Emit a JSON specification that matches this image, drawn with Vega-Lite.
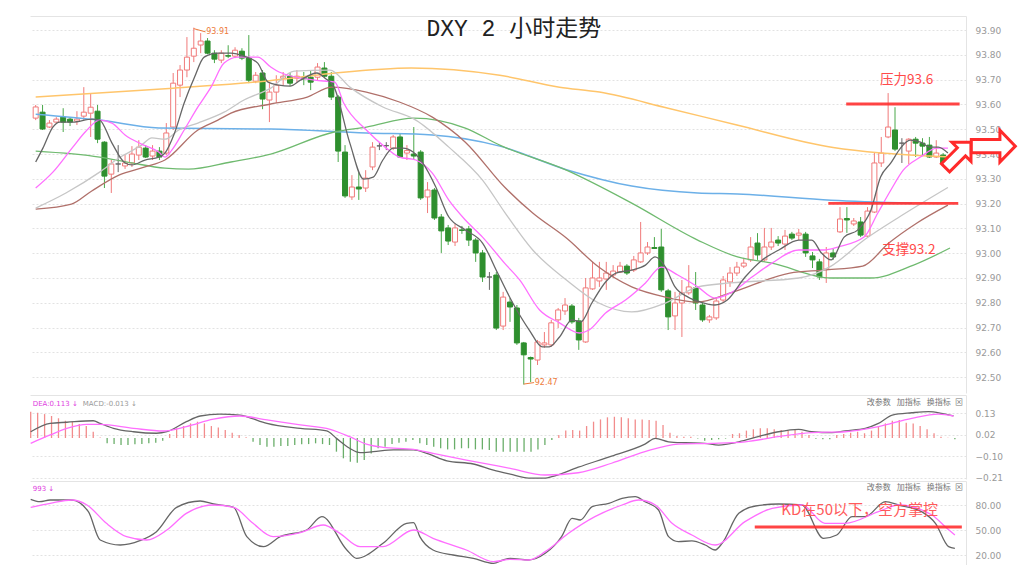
{
"$schema":"https://vega.github.io/schema/vega-lite/v6.json",
"padding":{"left":30,"top":16,"right":0,"bottom":0},
"background":"white",
"spacing":2,
"bounds":"flush",
"config":{"view":{"stroke":null},"font":"DejaVu Sans"},
"datasets":{
"candles":[
{"i":0,"o":93.545,"c":93.590,"h":93.598,"l":93.537},{"i":1,"o":93.569,"c":93.501,"h":93.598,"l":93.497},{"i":2,"o":93.509,"c":93.525,"h":93.537,"l":93.505},{"i":3,"o":93.529,"c":93.541,"h":93.549,"l":93.525},{"i":4,"o":93.549,"c":93.529,"h":93.585,"l":93.489},{"i":5,"o":93.541,"c":93.529,"h":93.549,"l":93.513},{"i":6,"o":93.533,"c":93.541,"h":93.573,"l":93.517},{"i":7,"o":93.553,"c":93.569,"h":93.670,"l":93.537},{"i":8,"o":93.565,"c":93.589,"h":93.646,"l":93.469},{"i":9,"o":93.573,"c":93.460,"h":93.598,"l":93.444},
{"i":10,"o":93.448,"c":93.311,"h":93.452,"l":93.263},{"i":11,"o":93.319,"c":93.360,"h":93.376,"l":93.243},{"i":12,"o":93.360,"c":93.360,"h":93.436,"l":93.327},{"i":13,"o":93.352,"c":93.364,"h":93.400,"l":93.340},{"i":14,"o":93.364,"c":93.400,"h":93.432,"l":93.348},{"i":15,"o":93.396,"c":93.428,"h":93.456,"l":93.376},{"i":16,"o":93.424,"c":93.388,"h":93.436,"l":93.384},{"i":17,"o":93.392,"c":93.412,"h":93.436,"l":93.376},{"i":18,"o":93.412,"c":93.388,"h":93.428,"l":93.376},{"i":19,"o":93.404,"c":93.485,"h":93.525,"l":93.396},
{"i":20,"o":93.509,"c":93.686,"h":93.727,"l":93.497},{"i":21,"o":93.678,"c":93.739,"h":93.759,"l":93.630},{"i":22,"o":93.739,"c":93.791,"h":93.872,"l":93.710},{"i":23,"o":93.795,"c":93.827,"h":93.910,"l":93.771},{"i":24,"o":93.840,"c":93.856,"h":93.888,"l":93.807},{"i":25,"o":93.856,"c":93.807,"h":93.868,"l":93.803},{"i":26,"o":93.807,"c":93.783,"h":93.819,"l":93.767},{"i":27,"o":93.779,"c":93.807,"h":93.819,"l":93.767},{"i":28,"o":93.797,"c":93.795,"h":93.839,"l":93.787},{"i":29,"o":93.795,"c":93.819,"h":93.831,"l":93.787},
{"i":30,"o":93.815,"c":93.787,"h":93.827,"l":93.779},{"i":31,"o":93.787,"c":93.698,"h":93.880,"l":93.686},{"i":32,"o":93.694,"c":93.718,"h":93.731,"l":93.686},{"i":33,"o":93.727,"c":93.622,"h":93.739,"l":93.581},{"i":34,"o":93.618,"c":93.650,"h":93.686,"l":93.529},{"i":35,"o":93.650,"c":93.678,"h":93.718,"l":93.606},{"i":36,"o":93.706,"c":93.714,"h":93.731,"l":93.678},{"i":37,"o":93.714,"c":93.686,"h":93.727,"l":93.674},{"i":38,"o":93.706,"c":93.714,"h":93.739,"l":93.690},{"i":39,"o":93.708,"c":93.704,"h":93.731,"l":93.678},
{"i":40,"o":93.710,"c":93.690,"h":93.739,"l":93.658},{"i":41,"o":93.710,"c":93.751,"h":93.767,"l":93.698},{"i":42,"o":93.747,"c":93.714,"h":93.771,"l":93.706},{"i":43,"o":93.714,"c":93.630,"h":93.731,"l":93.618},{"i":44,"o":93.630,"c":93.412,"h":93.638,"l":93.368},{"i":45,"o":93.408,"c":93.231,"h":93.436,"l":93.223},{"i":46,"o":93.227,"c":93.267,"h":93.315,"l":93.215},{"i":47,"o":93.267,"c":93.259,"h":93.327,"l":93.215},{"i":48,"o":93.263,"c":93.303,"h":93.335,"l":93.247},{"i":49,"o":93.348,"c":93.428,"h":93.448,"l":93.335},
{"i":50,"o":93.433,"c":93.433,"h":93.448,"l":93.416},{"i":51,"o":93.434,"c":93.434,"h":93.448,"l":93.416},{"i":52,"o":93.424,"c":93.469,"h":93.477,"l":93.416},{"i":53,"o":93.469,"c":93.388,"h":93.481,"l":93.384},{"i":54,"o":93.404,"c":93.414,"h":93.436,"l":93.376},{"i":55,"o":93.400,"c":93.392,"h":93.509,"l":93.376},{"i":56,"o":93.408,"c":93.223,"h":93.416,"l":93.215},{"i":57,"o":93.227,"c":93.255,"h":93.287,"l":93.162},{"i":58,"o":93.255,"c":93.142,"h":93.263,"l":93.134},{"i":59,"o":93.146,"c":93.090,"h":93.158,"l":93.001},
{"i":60,"o":93.102,"c":93.049,"h":93.114,"l":93.033},{"i":61,"o":93.045,"c":93.102,"h":93.118,"l":93.029},{"i":62,"o":93.094,"c":93.092,"h":93.110,"l":93.078},{"i":63,"o":93.098,"c":93.053,"h":93.110,"l":93.029},{"i":64,"o":93.053,"c":93.001,"h":93.061,"l":92.965},{"i":65,"o":93.001,"c":92.904,"h":93.013,"l":92.884},{"i":66,"o":92.904,"c":92.904,"h":92.924,"l":92.852},{"i":67,"o":92.912,"c":92.698,"h":92.924,"l":92.690},{"i":68,"o":92.706,"c":92.823,"h":92.844,"l":92.690},{"i":69,"o":92.803,"c":92.783,"h":92.819,"l":92.723},
{"i":70,"o":92.779,"c":92.638,"h":92.791,"l":92.630},{"i":71,"o":92.638,"c":92.590,"h":92.642,"l":92.470},{"i":72,"o":92.579,"c":92.573,"h":92.583,"l":92.480},{"i":73,"o":92.569,"c":92.642,"h":92.650,"l":92.549},{"i":74,"o":92.630,"c":92.638,"h":92.682,"l":92.618},{"i":75,"o":92.630,"c":92.719,"h":92.731,"l":92.622},{"i":76,"o":92.731,"c":92.771,"h":92.779,"l":92.698},{"i":77,"o":92.767,"c":92.791,"h":92.819,"l":92.751},{"i":78,"o":92.787,"c":92.723,"h":92.795,"l":92.715},{"i":79,"o":92.727,"c":92.650,"h":92.739,"l":92.610},
{"i":80,"o":92.642,"c":92.860,"h":92.900,"l":92.638},{"i":81,"o":92.856,"c":92.900,"h":92.965,"l":92.852},{"i":82,"o":92.888,"c":92.900,"h":92.965,"l":92.864},{"i":83,"o":92.896,"c":92.920,"h":92.965,"l":92.852},{"i":84,"o":92.912,"c":92.928,"h":92.952,"l":92.900},{"i":85,"o":92.924,"c":92.948,"h":92.965,"l":92.920},{"i":86,"o":92.948,"c":92.920,"h":92.956,"l":92.912},{"i":87,"o":92.932,"c":92.973,"h":92.989,"l":92.924},{"i":88,"o":92.965,"c":93.001,"h":93.126,"l":92.961},{"i":89,"o":93.001,"c":93.025,"h":93.045,"l":92.993},
{"i":90,"o":93.023,"c":93.019,"h":93.065,"l":93.017},{"i":91,"o":93.025,"c":92.852,"h":93.098,"l":92.844},{"i":92,"o":92.848,"c":92.743,"h":92.856,"l":92.690},{"i":93,"o":92.747,"c":92.799,"h":92.844,"l":92.690},{"i":94,"o":92.799,"c":92.840,"h":92.892,"l":92.662},{"i":95,"o":92.840,"c":92.864,"h":92.952,"l":92.832},{"i":96,"o":92.860,"c":92.799,"h":92.924,"l":92.771},{"i":97,"o":92.791,"c":92.731,"h":92.799,"l":92.723},{"i":98,"o":92.731,"c":92.743,"h":92.751,"l":92.719},{"i":99,"o":92.739,"c":92.807,"h":92.819,"l":92.731},
{"i":100,"o":92.811,"c":92.892,"h":92.908,"l":92.799},{"i":101,"o":92.884,"c":92.920,"h":92.944,"l":92.864},{"i":102,"o":92.920,"c":92.944,"h":92.965,"l":92.908},{"i":103,"o":92.948,"c":92.960,"h":92.981,"l":92.940},{"i":104,"o":92.973,"c":93.025,"h":93.065,"l":92.965},{"i":105,"o":93.041,"c":92.993,"h":93.081,"l":92.973},{"i":106,"o":92.973,"c":93.025,"h":93.102,"l":92.965},{"i":107,"o":93.025,"c":93.045,"h":93.102,"l":93.013},{"i":108,"o":93.053,"c":93.041,"h":93.069,"l":93.029},{"i":109,"o":93.037,"c":93.069,"h":93.094,"l":93.013},
{"i":110,"o":93.077,"c":93.061,"h":93.086,"l":93.053},{"i":111,"o":93.073,"c":93.081,"h":93.098,"l":93.053},{"i":112,"o":93.077,"c":93.001,"h":93.086,"l":92.985},{"i":113,"o":92.989,"c":92.973,"h":93.005,"l":92.940},{"i":114,"o":92.965,"c":92.904,"h":92.977,"l":92.892},{"i":115,"o":92.936,"c":93.001,"h":93.025,"l":92.880},{"i":116,"o":93.001,"c":92.985,"h":93.017,"l":92.973},{"i":117,"o":93.086,"c":93.138,"h":93.186,"l":93.082},{"i":118,"o":93.140,"c":93.134,"h":93.186,"l":93.082},{"i":119,"o":93.118,"c":93.130,"h":93.142,"l":93.110},
{"i":120,"o":93.126,"c":93.073,"h":93.146,"l":93.065},{"i":121,"o":93.069,"c":93.170,"h":93.186,"l":93.065},{"i":122,"o":93.166,"c":93.364,"h":93.408,"l":93.162},{"i":123,"o":93.364,"c":93.404,"h":93.469,"l":93.348},{"i":124,"o":93.469,"c":93.509,"h":93.646,"l":93.464},{"i":125,"o":93.497,"c":93.420,"h":93.589,"l":93.412},{"i":126,"o":93.444,"c":93.444,"h":93.464,"l":93.364},{"i":127,"o":93.412,"c":93.460,"h":93.464,"l":93.360},{"i":128,"o":93.460,"c":93.444,"h":93.469,"l":93.388},{"i":129,"o":93.444,"c":93.432,"h":93.464,"l":93.396},
{"i":130,"o":93.436,"c":93.388,"h":93.469,"l":93.384},{"i":131,"o":93.388,"c":93.404,"h":93.456,"l":93.384},{"i":132,"o":93.396,"c":93.364,"h":93.404,"l":93.356},{"i":133,"o":93.368,"c":93.388,"h":93.396,"l":93.327}
],
"ma5":[{"i":0,"v":93.368},{"i":1.05,"v":93.424},{"i":2.5,"v":93.509},{"i":3.5,"v":93.529},{"i":5.4,"v":93.529},{"i":8.2,"v":93.541},{"i":9.3,"v":93.537},{"i":11.1,"v":93.444},{"i":13,"v":93.364},{"i":14,"v":93.356},{"i":15.9,"v":93.376},{"i":17.9,"v":93.388},{"i":18.8,"v":93.404},{"i":20.2,"v":93.485},{"i":21.6,"v":93.606},{"i":23.1,"v":93.710},{"i":24.5,"v":93.791},{"i":26.5,"v":93.807},{"i":28.4,"v":93.807},{"i":30.3,"v":93.795},{"i":32.3,"v":93.767},{"i":33.8,"v":93.690},{"i":35.4,"v":93.678},{"i":37,"v":93.674},{"i":38.5,"v":93.698},{"i":40.9,"v":93.727},{"i":42.1,"v":93.706},{"i":43.4,"v":93.670},{"i":45.7,"v":93.444},{"i":47.7,"v":93.299},{"i":49.1,"v":93.307},{"i":50.5,"v":93.376},{"i":52,"v":93.424},{"i":53.4,"v":93.424},{"i":54.9,"v":93.408},{"i":56.3,"v":93.364},{"i":58.2,"v":93.267},{"i":60.1,"v":93.146},{"i":62.5,"v":93.094},{"i":65,"v":93.041},{"i":67.2,"v":92.920},{"i":69.4,"v":92.799},{"i":71.8,"v":92.690},{"i":73.7,"v":92.622},{"i":74.7,"v":92.622},{"i":76.2,"v":92.662},{"i":78,"v":92.731},{"i":79.3,"v":92.723},{"i":80.9,"v":92.799},{"i":82.9,"v":92.884},{"i":84.4,"v":92.920},{"i":86.7,"v":92.932},{"i":88.7,"v":92.952},{"i":90.1,"v":92.985},{"i":91.6,"v":92.944},{"i":93,"v":92.864},{"i":94.9,"v":92.823},{"i":96.7,"v":92.803},{"i":98.8,"v":92.791},{"i":100.6,"v":92.811},{"i":103.2,"v":92.904},{"i":105.7,"v":92.973},{"i":108.1,"v":93.013},{"i":111,"v":93.053},{"i":112.9,"v":93.053},{"i":114.3,"v":93.001},{"i":115.7,"v":92.973},{"i":117.6,"v":93.065},{"i":119.6,"v":93.094},{"i":121.5,"v":93.174},{"i":122.9,"v":93.307},{"i":124.4,"v":93.364},{"i":125.8,"v":93.424},{"i":127.2,"v":93.456},{"i":128.7,"v":93.448},{"i":130.1,"v":93.428},{"i":131.3,"v":93.428},{"i":132.7,"v":93.404}],
"ma10":[{"i":0,"v":93.263},{"i":2.5,"v":93.327},{"i":5.4,"v":93.428},{"i":7.2,"v":93.489},{"i":9.3,"v":93.537},{"i":11.1,"v":93.525},{"i":13,"v":93.477},{"i":15.4,"v":93.440},{"i":17.9,"v":93.408},{"i":18.8,"v":93.388},{"i":19.8,"v":93.416},{"i":21.6,"v":93.497},{"i":23.6,"v":93.590},{"i":25.5,"v":93.670},{"i":27.4,"v":93.767},{"i":29.4,"v":93.791},{"i":32.3,"v":93.791},{"i":34.2,"v":93.751},{"i":35.4,"v":93.731},{"i":40.6,"v":93.698},{"i":43.5,"v":93.690},{"i":44.8,"v":93.606},{"i":48.1,"v":93.497},{"i":51,"v":93.424},{"i":52.9,"v":93.388},{"i":55.3,"v":93.376},{"i":57.7,"v":93.323},{"i":60.1,"v":93.214},{"i":62.5,"v":93.134},{"i":65,"v":93.065},{"i":68.2,"v":92.960},{"i":70.4,"v":92.892},{"i":73.3,"v":92.771},{"i":76.2,"v":92.719},{"i":79.1,"v":92.678},{"i":80.5,"v":92.690},{"i":82.9,"v":92.759},{"i":85.8,"v":92.811},{"i":88.7,"v":92.880},{"i":91,"v":92.944},{"i":93.4,"v":92.912},{"i":96.3,"v":92.864},{"i":98.8,"v":92.819},{"i":101.1,"v":92.840},{"i":104.2,"v":92.904},{"i":107.1,"v":92.960},{"i":111,"v":93.013},{"i":114.7,"v":93.013},{"i":116.7,"v":93.025},{"i":120.5,"v":93.065},{"i":122.5,"v":93.162},{"i":124.4,"v":93.255},{"i":126.2,"v":93.335},{"i":128.7,"v":93.388},{"i":131.1,"v":93.424},{"i":132.7,"v":93.424}],
"ma20":[{"i":0,"v":93.182},{"i":4.4,"v":93.243},{"i":9.3,"v":93.327},{"i":12.1,"v":93.384},{"i":15.4,"v":93.436},{"i":16.9,"v":93.465},{"i":18.8,"v":93.460},{"i":20.8,"v":93.497},{"i":23.6,"v":93.525},{"i":27.4,"v":93.569},{"i":30.3,"v":93.618},{"i":34.2,"v":93.666},{"i":37.6,"v":93.735},{"i":42.8,"v":93.739},{"i":45.7,"v":93.670},{"i":50.5,"v":93.590},{"i":55.3,"v":93.537},{"i":60.1,"v":93.428},{"i":65,"v":93.295},{"i":68.2,"v":93.166},{"i":72.3,"v":93.013},{"i":77.2,"v":92.892},{"i":81.9,"v":92.799},{"i":86.7,"v":92.763},{"i":91.6,"v":92.799},{"i":96.3,"v":92.864},{"i":101.1,"v":92.880},{"i":111,"v":92.900},{"i":115.7,"v":92.948},{"i":120.5,"v":93.053},{"i":125.4,"v":93.142},{"i":132.7,"v":93.265}],
"ma30":[{"i":0,"v":93.178},{"i":5.2,"v":93.198},{"i":8.1,"v":93.250},{"i":12.1,"v":93.315},{"i":15.9,"v":93.348},{"i":18.8,"v":93.376},{"i":23.6,"v":93.497},{"i":26.5,"v":93.537},{"i":28.4,"v":93.565},{"i":34.2,"v":93.602},{"i":39.5,"v":93.630},{"i":43.1,"v":93.670},{"i":48.1,"v":93.650},{"i":52.9,"v":93.610},{"i":57.7,"v":93.549},{"i":62.5,"v":93.448},{"i":68.2,"v":93.267},{"i":72.3,"v":93.162},{"i":77.2,"v":93.061},{"i":81.9,"v":92.944},{"i":86.7,"v":92.864},{"i":91.6,"v":92.823},{"i":96.3,"v":92.803},{"i":101.1,"v":92.840},{"i":109.7,"v":92.920},{"i":114.6,"v":92.932},{"i":120.3,"v":92.948},{"i":124.1,"v":93.041},{"i":128.2,"v":93.122},{"i":132.7,"v":93.194}],
"ma60":[{"i":0,"v":93.412},{"i":9.3,"v":93.388},{"i":14,"v":93.364},{"i":18.8,"v":93.343},{"i":22.2,"v":93.339},{"i":28.4,"v":93.368},{"i":34.2,"v":93.400},{"i":43.4,"v":93.489},{"i":48.1,"v":93.509},{"i":55,"v":93.545},{"i":62.5,"v":93.505},{"i":67.5,"v":93.436},{"i":77.2,"v":93.335},{"i":86.7,"v":93.202},{"i":96.3,"v":93.053},{"i":102.1,"v":92.985},{"i":107.1,"v":92.960},{"i":115.7,"v":92.900},{"i":121.5,"v":92.900},{"i":127.7,"v":92.952},{"i":133,"v":93.021}],
"ma120":[{"i":0,"v":93.561},{"i":9.3,"v":93.537},{"i":17.9,"v":93.505},{"i":34.2,"v":93.501},{"i":48.1,"v":93.485},{"i":57.7,"v":93.477},{"i":67.5,"v":93.432},{"i":77.2,"v":93.337},{"i":86.7,"v":93.271},{"i":96.3,"v":93.243},{"i":102.1,"v":93.239},{"i":115.7,"v":93.214},{"i":127.5,"v":93.202}],
"ma250":[{"i":0,"v":93.630},{"i":20,"v":93.666},{"i":34,"v":93.696},{"i":43,"v":93.725},{"i":54.6,"v":93.747},{"i":67.5,"v":93.718},{"i":76.2,"v":93.670},{"i":82,"v":93.650},{"i":92,"v":93.585},{"i":102,"v":93.517},{"i":116,"v":93.426},{"i":123,"v":93.404},{"i":130,"v":93.392},{"i":133,"v":93.388}],
"hist":[{"i":0,"m":0.139},{"i":1,"m":0.133},{"i":2,"m":0.126},{"i":3,"m":0.116},{"i":4,"m":0.104},{"i":5,"m":0.091},{"i":6,"m":0.086},{"i":7,"m":0.074},{"i":8,"m":0.063},{"i":9,"m":0.033},{"i":10,"m":0.003},{"i":11,"m":-0.028},{"i":12,"m":-0.032},{"i":13,"m":-0.037},{"i":14,"m":-0.037},{"i":15,"m":-0.033},{"i":16,"m":-0.032},{"i":17,"m":-0.028},{"i":18,"m":-0.025},{"i":19,"m":-0.014},{"i":20,"m":0.021},{"i":21,"m":0.051},{"i":22,"m":0.063},{"i":23,"m":0.077},{"i":24,"m":0.086},{"i":25,"m":0.077},{"i":26,"m":0.063},{"i":27,"m":0.056},{"i":28,"m":0.042},{"i":29,"m":0.028},{"i":30,"m":0.016},{"i":31,"m":0.004},{"i":32,"m":-0.020},{"i":33,"m":-0.037},{"i":34,"m":-0.046},{"i":35,"m":-0.046},{"i":36,"m":-0.042},{"i":37,"m":-0.042},{"i":38,"m":-0.037},{"i":39,"m":-0.033},{"i":40,"m":-0.032},{"i":41,"m":-0.028},{"i":42,"m":-0.032},{"i":43,"m":-0.037},{"i":44,"m":-0.072},{"i":45,"m":-0.107},{"i":46,"m":-0.125},{"i":47,"m":-0.130},{"i":48,"m":-0.116},{"i":49,"m":-0.081},{"i":50,"m":-0.054},{"i":51,"m":-0.046},{"i":52,"m":-0.032},{"i":53,"m":-0.025},{"i":54,"m":-0.020},{"i":55,"m":-0.011},{"i":56,"m":-0.028},{"i":57,"m":-0.037},{"i":58,"m":-0.046},{"i":59,"m":-0.054},{"i":60,"m":-0.060},{"i":61,"m":-0.060},{"i":62,"m":-0.054},{"i":63,"m":-0.054},{"i":64,"m":-0.060},{"i":65,"m":-0.060},{"i":66,"m":-0.063},{"i":67,"m":-0.072},{"i":68,"m":-0.072},{"i":69,"m":-0.072},{"i":70,"m":-0.072},{"i":71,"m":-0.072},{"i":72,"m":-0.072},{"i":73,"m":-0.060},{"i":74,"m":-0.037},{"i":75,"m":-0.011},{"i":76,"m":0.016},{"i":77,"m":0.039},{"i":78,"m":0.042},{"i":79,"m":0.039},{"i":80,"m":0.063},{"i":81,"m":0.086},{"i":82,"m":0.098},{"i":83,"m":0.109},{"i":84,"m":0.112},{"i":85,"m":0.109},{"i":86,"m":0.104},{"i":87,"m":0.098},{"i":88,"m":0.098},{"i":89,"m":0.095},{"i":90,"m":0.091},{"i":91,"m":0.069},{"i":92,"m":0.028},{"i":93,"m":0.011},{"i":94,"m":0.007},{"i":95,"m":0.007},{"i":96,"m":-0.003},{"i":97,"m":-0.014},{"i":98,"m":-0.011},{"i":99,"m":-0.007},{"i":100,"m":-0.003},{"i":101,"m":0.021},{"i":102,"m":0.025},{"i":103,"m":0.039},{"i":104,"m":0.046},{"i":105,"m":0.051},{"i":106,"m":0.051},{"i":107,"m":0.046},{"i":108,"m":0.042},{"i":109,"m":0.039},{"i":110,"m":0.042},{"i":111,"m":0.033},{"i":112,"m":0.016},{"i":113,"m":-0.004},{"i":114,"m":-0.006},{"i":115,"m":-0.006},{"i":116,"m":0.016},{"i":117,"m":0.021},{"i":118,"m":0.028},{"i":119,"m":0.033},{"i":120,"m":0.025},{"i":121,"m":0.039},{"i":122,"m":0.060},{"i":123,"m":0.077},{"i":124,"m":0.091},{"i":125,"m":0.095},{"i":126,"m":0.081},{"i":127,"m":0.077},{"i":128,"m":0.063},{"i":129,"m":0.046},{"i":130,"m":0.025},{"i":131,"m":0.007},{"i":132,"m":0.002},{"i":133,"m":-0.007}],
"dif":[{"i":0,"v":0.033},{"i":2.8,"v":0.077},{"i":5.2,"v":0.083},{"i":9,"v":0.091},{"i":10,"v":0.077},{"i":11.9,"v":0.051},{"i":14.8,"v":0.033},{"i":18.1,"v":0.025},{"i":19.6,"v":0.033},{"i":22.4,"v":0.086},{"i":24.4,"v":0.116},{"i":27.2,"v":0.126},{"i":30.1,"v":0.121},{"i":31.1,"v":0.112},{"i":34,"v":0.077},{"i":38.8,"v":0.051},{"i":42.6,"v":0.038},{"i":44,"v":-0.002},{"i":45.9,"v":-0.054},{"i":47.4,"v":-0.077},{"i":49.3,"v":-0.072},{"i":52.2,"v":-0.063},{"i":55.1,"v":-0.063},{"i":57,"v":-0.081},{"i":59.9,"v":-0.120},{"i":63.7,"v":-0.137},{"i":66.6,"v":-0.169},{"i":69,"v":-0.190},{"i":71.65,"v":-0.211},{"i":74.05,"v":-0.211},{"i":75,"v":-0.204},{"i":78.8,"v":-0.154},{"i":83.6,"v":-0.095},{"i":88.4,"v":-0.032},{"i":89.9,"v":-0.002},{"i":91.8,"v":-0.020},{"i":94.2,"v":-0.025},{"i":97,"v":-0.028},{"i":99,"v":-0.037},{"i":101.9,"v":-0.020},{"i":104.7,"v":0.007},{"i":107.6,"v":0.033},{"i":110.5,"v":0.046},{"i":112.4,"v":0.033},{"i":115.3,"v":0.028},{"i":117.2,"v":0.038},{"i":120.1,"v":0.051},{"i":122,"v":0.077},{"i":124,"v":0.121},{"i":126.8,"v":0.133},{"i":129.2,"v":0.139},{"i":131.1,"v":0.130},{"i":132.8,"v":0.116}],
"dea":[{"i":0,"v":-0.028},{"i":2.8,"v":0.016},{"i":5.2,"v":0.051},{"i":8.1,"v":0.072},{"i":10,"v":0.072},{"i":14.8,"v":0.051},{"i":19.1,"v":0.037},{"i":22.4,"v":0.060},{"i":26.3,"v":0.099},{"i":30.1,"v":0.116},{"i":34,"v":0.095},{"i":38.8,"v":0.069},{"i":43.1,"v":0.046},{"i":45.9,"v":0.007},{"i":48.3,"v":-0.032},{"i":50.7,"v":-0.049},{"i":55.1,"v":-0.060},{"i":57.9,"v":-0.081},{"i":62.7,"v":-0.116},{"i":69,"v":-0.160},{"i":74.05,"v":-0.195},{"i":78.8,"v":-0.183},{"i":83.6,"v":-0.133},{"i":88.4,"v":-0.072},{"i":93.2,"v":-0.032},{"i":98,"v":-0.028},{"i":102.8,"v":-0.020},{"i":107.6,"v":0.007},{"i":112.4,"v":0.028},{"i":117.2,"v":0.033},{"i":122,"v":0.060},{"i":126.8,"v":0.104},{"i":130.6,"v":0.126},{"i":132.8,"v":0.116}],
"kline":[{"i":0,"v":86.8},{"i":1.3,"v":84.0},{"i":2.8,"v":86},{"i":5.9,"v":86},{"i":8.3,"v":72},{"i":10,"v":38},{"i":12.9,"v":32},{"i":15.7,"v":37.2},{"i":18.1,"v":48},{"i":21,"v":77.2},{"i":24.4,"v":84.8},{"i":26.3,"v":81.2},{"i":29.2,"v":77.2},{"i":31.1,"v":42},{"i":33.5,"v":30},{"i":35.9,"v":42},{"i":39.7,"v":50},{"i":41.9,"v":66},{"i":45.5,"v":26},{"i":46.9,"v":16},{"i":50.7,"v":34},{"i":54.1,"v":58},{"i":55.1,"v":58.8},{"i":56,"v":42},{"i":57.9,"v":26},{"i":60.8,"v":20},{"i":63.7,"v":16},{"i":66.6,"v":10},{"i":68,"v":14},{"i":69,"v":16},{"i":71.65,"v":14},{"i":74.05,"v":22},{"i":76.4,"v":42},{"i":77.9,"v":64},{"i":79.1,"v":62},{"i":80.8,"v":78},{"i":83.2,"v":82},{"i":85.1,"v":88},{"i":87,"v":90},{"i":88.4,"v":84},{"i":90.35,"v":74},{"i":91.8,"v":42},{"i":93.2,"v":36},{"i":95.15,"v":37},{"i":97.07,"v":32},{"i":98.5,"v":26},{"i":99.5,"v":34},{"i":101.9,"v":70},{"i":104.3,"v":78.8},{"i":107.6,"v":81.2},{"i":111,"v":80},{"i":114.1,"v":40},{"i":116,"v":44},{"i":118.2,"v":66},{"i":120.1,"v":66},{"i":123,"v":84},{"i":124.9,"v":80},{"i":128.2,"v":72},{"i":130.2,"v":58},{"i":132.1,"v":30},{"i":133,"v":28}],
"dline":[{"i":0,"v":77.2},{"i":2.8,"v":82},{"i":5.9,"v":86},{"i":8.1,"v":80},{"i":10.9,"v":58},{"i":13.8,"v":42},{"i":16.7,"v":38},{"i":19.6,"v":50},{"i":22.4,"v":70},{"i":26.3,"v":80},{"i":29.2,"v":77.2},{"i":32,"v":58},{"i":34.9,"v":42},{"i":38.8,"v":46.8},{"i":42.1,"v":56},{"i":44.5,"v":46},{"i":47.4,"v":30},{"i":50.7,"v":30},{"i":55.1,"v":50},{"i":57.9,"v":40},{"i":62.7,"v":26},{"i":66.6,"v":12},{"i":69,"v":14.8},{"i":71.65,"v":14},{"i":74.05,"v":24},{"i":77.4,"v":46},{"i":81.2,"v":66},{"i":85.1,"v":80},{"i":87.5,"v":86},{"i":89.9,"v":80},{"i":92.3,"v":58},{"i":95.15,"v":44},{"i":98.5,"v":32},{"i":102.8,"v":60},{"i":106.7,"v":76},{"i":111,"v":80},{"i":114.3,"v":58},{"i":117.2,"v":58},{"i":122,"v":72},{"i":124.9,"v":80},{"i":129.7,"v":68},{"i":131.6,"v":54},{"i":133,"v":44}]
},
"vconcat":[
{
"width":936,"height":377,
"resolve":{"axis":{"y":"independent"}},
"encoding":{"x":{"field":"i","type":"quantitative","scale":{"domain":[-0.1,134.6],"nice":false,"zero":false},"axis":{"orient":"top","labels":false,"ticks":false,"grid":false,"domain":true,"domainColor":"#e4e4e4","title":null}}},
"layer":[
{"data":{"name":"candles"},"mark":{"type":"rule","strokeWidth":1,"clip":true},
 "encoding":{"y":{"field":"l","type":"quantitative","scale":{"domain":[92.436,93.957],"nice":false,"zero":false},
   "axis":{"orient":"right","values":[92.5,92.6,92.7,92.8,92.9,93.0,93.1,93.2,93.3,93.4,93.5,93.6,93.7,93.8,93.9],"format":".2f","grid":true,"gridColor":"#e2e2e2","gridDash":[2,2],"ticks":false,"domain":true,"domainColor":"#e4e4e4","labelColor":"#999999","labelFontSize":9,"labelFont":"DejaVu Sans","labelPadding":9,"labelOverlap":false,"title":null}},
  "y2":{"field":"h"},
  "color":{"condition":[{"test":"datum.c > datum.o","value":"#f07a7a"},{"test":"datum.c < datum.o","value":"#4aa84a"}],"value":"#666666"}}},
{"data":{"name":"candles"},"mark":{"type":"bar","width":5,"strokeWidth":1,"clip":true},
 "encoding":{"y":{"field":"o","type":"quantitative","scale":{"domain":[92.436,93.957],"nice":false,"zero":false},"axis":null},"y2":{"field":"c"},
  "fill":{"condition":[{"test":"datum.c > datum.o","value":"#ffffff"},{"test":"datum.c < datum.o","value":"#2e8f2e"}],"value":"#666666"},
  "stroke":{"condition":[{"test":"datum.c > datum.o","value":"#f07a7a"},{"test":"datum.c < datum.o","value":"#2e8f2e"}],"value":"#666666"}}},
{"data":{"name":"ma250"},"mark":{"type":"line","color":"#ffc56b","strokeWidth":1.5,"interpolate":"monotone","clip":true},"encoding":{"y":{"field":"v","type":"quantitative","scale":{"domain":[92.436,93.957],"nice":false,"zero":false},"axis":null}}},
{"data":{"name":"ma120"},"mark":{"type":"line","color":"#6cb0e8","strokeWidth":1.5,"interpolate":"monotone","clip":true},"encoding":{"y":{"field":"v","type":"quantitative","scale":{"domain":[92.436,93.957],"nice":false,"zero":false},"axis":null}}},
{"data":{"name":"ma60"},"mark":{"type":"line","color":"#6fba6f","strokeWidth":1.3,"interpolate":"monotone","clip":true},"encoding":{"y":{"field":"v","type":"quantitative","scale":{"domain":[92.436,93.957],"nice":false,"zero":false},"axis":null}}},
{"data":{"name":"ma30"},"mark":{"type":"line","color":"#b0706a","strokeWidth":1.3,"interpolate":"monotone","clip":true},"encoding":{"y":{"field":"v","type":"quantitative","scale":{"domain":[92.436,93.957],"nice":false,"zero":false},"axis":null}}},
{"data":{"name":"ma20"},"mark":{"type":"line","color":"#c6c6c6","strokeWidth":1.3,"interpolate":"monotone","clip":true},"encoding":{"y":{"field":"v","type":"quantitative","scale":{"domain":[92.436,93.957],"nice":false,"zero":false},"axis":null}}},
{"data":{"name":"ma10"},"mark":{"type":"line","color":"#ff6eff","strokeWidth":1.3,"interpolate":"monotone","clip":true},"encoding":{"y":{"field":"v","type":"quantitative","scale":{"domain":[92.436,93.957],"nice":false,"zero":false},"axis":null}}},
{"data":{"name":"ma5"},"mark":{"type":"line","color":"#666666","strokeWidth":1.3,"interpolate":"monotone","clip":true},"encoding":{"y":{"field":"v","type":"quantitative","scale":{"domain":[92.436,93.957],"nice":false,"zero":false},"axis":null}}},
{"data":{"values":[{"i":117.9,"i2":134.4,"v":93.602},{"i":115.3,"i2":134.2,"v":93.201}]},"mark":{"type":"rule","color":"#ff3030","strokeWidth":2.8,"opacity":0.9},
 "encoding":{"x2":{"field":"i2"},"y":{"field":"v","type":"quantitative","scale":{"domain":[92.436,93.957],"nice":false,"zero":false},"axis":null}}},
{"data":{"values":[{"i":23,"i2":24.7,"v":93.906,"v2":93.893},{"i":71,"i2":72.5,"v":92.472,"v2":92.478}]},"mark":{"type":"rule","color":"#ee7a3a","strokeWidth":1},
 "encoding":{"x2":{"field":"i2"},"y":{"field":"v","type":"quantitative","scale":{"domain":[92.436,93.957],"nice":false,"zero":false},"axis":null},"y2":{"field":"v2"}}},
{"data":{"values":[{"t":"93.91","i":24.8,"v":93.892},{"t":"92.47","i":72.6,"v":92.478}]},"mark":{"type":"text","align":"left","baseline":"middle","fontSize":8,"color":"#ee7a3a","font":"DejaVu Sans"},
 "encoding":{"text":{"field":"t"},"y":{"field":"v","type":"quantitative","scale":{"domain":[92.436,93.957],"nice":false,"zero":false},"axis":null}}},
{"data":{"values":[{"t":"DXY 2 小时走势","i":69.55,"v":93.904}]},"mark":{"type":"text","align":"center","baseline":"middle","fontSize":23,"color":"#222222","font":"Liberation Mono, Noto Sans CJK SC"},
 "encoding":{"text":{"field":"t"},"y":{"field":"v","type":"quantitative","scale":{"domain":[92.436,93.957],"nice":false,"zero":false},"axis":null}}},
{"data":{"values":[{"t":"压力93.6","i":126.7,"v":93.698},{"t":"支撑93.2","i":127.0,"v":93.013}]},"mark":{"type":"text","align":"center","baseline":"middle","fontSize":13.5,"color":"#ff4a4a","font":"Noto Sans CJK SC"},
 "encoding":{"text":{"field":"t"},"y":{"field":"v","type":"quantitative","scale":{"domain":[92.436,93.957],"nice":false,"zero":false},"axis":null}}},
{"data":{"values":[{"i":134.2,"v":93.396}]},"mark":{"type":"point","shape":"M-1,-0.32L0.25,-0.32L0.25,-0.75L1,0L0.25,0.75L0.25,0.32L-1,0.32Z","size":1300,"angle":-45,"filled":true,"fill":"#ffffff","stroke":"#ff2a2a","strokeWidth":3,"opacity":1},
 "encoding":{"y":{"field":"v","type":"quantitative","scale":{"domain":[92.436,93.957],"nice":false,"zero":false},"axis":null}}},
{"data":{"values":[{"i":139.3,"v":93.432}]},"mark":{"type":"point","shape":"M-1,-0.3L0.3,-0.3L0.3,-0.72L1,0L0.3,0.72L0.3,0.3L-1,0.3Z","size":1936,"filled":true,"fill":"#ffffff","stroke":"#ff2a2a","strokeWidth":3,"opacity":1},
 "encoding":{"y":{"field":"v","type":"quantitative","scale":{"domain":[92.436,93.957],"nice":false,"zero":false},"axis":null}}}
]
},
{
"width":936,"height":84,
"resolve":{"axis":{"y":"independent"}},
"encoding":{"x":{"field":"i","type":"quantitative","scale":{"domain":[-0.1,134.6],"nice":false,"zero":false},"axis":{"orient":"top","labels":false,"ticks":false,"grid":false,"domain":true,"domainColor":"#e4e4e4","title":null}}},
"layer":[
{"data":{"name":"hist"},"mark":{"type":"rule","strokeWidth":1.3,"clip":true},
 "encoding":{"y":{"field":"m","type":"quantitative","scale":{"domain":[-0.216,0.2266],"nice":false,"zero":false},
   "axis":{"orient":"right","values":[0.1317,0.0183,-0.0955,-0.2083],"format":".2f","grid":true,"gridColor":"#e2e2e2","gridDash":[2,2],"ticks":false,"domain":true,"domainColor":"#e4e4e4","labelColor":"#999999","labelFontSize":9,"labelFont":"DejaVu Sans","labelPadding":9,"labelOverlap":false,"title":null}},
  "y2":{"datum":0},
  "color":{"condition":{"test":"datum.m >= 0","value":"#f28c8c"},"value":"#6aae6a"}}},
{"data":{"name":"dif"},"mark":{"type":"line","color":"#666666","strokeWidth":1.3,"interpolate":"monotone","clip":true},"encoding":{"y":{"field":"v","type":"quantitative","scale":{"domain":[-0.216,0.2266],"nice":false,"zero":false},"axis":null}}},
{"data":{"name":"dea"},"mark":{"type":"line","color":"#ff6eff","strokeWidth":1.3,"interpolate":"monotone","clip":true},"encoding":{"y":{"field":"v","type":"quantitative","scale":{"domain":[-0.216,0.2266],"nice":false,"zero":false},"axis":null}}},
{"data":{"values":[{"t":"DEA:0.113 ↓","i":0.3,"v":0.179}]},"mark":{"type":"text","align":"left","baseline":"middle","fontSize":7,"color":"#e040e0"},
 "encoding":{"text":{"field":"t"},"y":{"field":"v","type":"quantitative","scale":{"domain":[-0.216,0.2266],"nice":false,"zero":false},"axis":null}}},
{"data":{"values":[{"t":"MACD:-0.013 ↓","i":7.5,"v":0.179}]},"mark":{"type":"text","align":"left","baseline":"middle","fontSize":7,"color":"#999999"},
 "encoding":{"text":{"field":"t"},"y":{"field":"v","type":"quantitative","scale":{"domain":[-0.216,0.2266],"nice":false,"zero":false},"axis":null}}},
{"data":{"values":[{"t":"改参数","i":120.3,"v":0.184},{"t":"加指标","i":124.65,"v":0.184},{"t":"换指标","i":128.95,"v":0.184},{"t":"⊠","i":133.0,"v":0.184}]},"mark":{"type":"text","align":"left","baseline":"middle","fontSize":8,"color":"#777777","font":"Noto Sans CJK SC"},
 "encoding":{"text":{"field":"t"},"y":{"field":"v","type":"quantitative","scale":{"domain":[-0.216,0.2266],"nice":false,"zero":false},"axis":null}}}
]
},
{
"width":936,"height":84,
"resolve":{"axis":{"y":"independent"}},
"encoding":{"x":{"field":"i","type":"quantitative","scale":{"domain":[-0.1,134.6],"nice":false,"zero":false},"axis":{"orient":"top","labels":false,"ticks":false,"grid":false,"domain":true,"domainColor":"#e4e4e4","title":null}}},
"layer":[
{"data":{"name":"kline"},"mark":{"type":"line","color":"#666666","strokeWidth":1.3,"interpolate":"monotone","clip":true},
 "encoding":{"y":{"field":"v","type":"quantitative","scale":{"domain":[8,108.8],"nice":false,"zero":false},
   "axis":{"orient":"right","values":[80,50,20],"format":".2f","grid":true,"gridColor":"#e2e2e2","gridDash":[2,2],"ticks":false,"domain":true,"domainColor":"#e4e4e4","labelColor":"#999999","labelFontSize":9,"labelFont":"DejaVu Sans","labelPadding":9,"labelOverlap":false,"title":null}}}},
{"data":{"name":"dline"},"mark":{"type":"line","color":"#ff6eff","strokeWidth":1.3,"interpolate":"monotone","clip":true},"encoding":{"y":{"field":"v","type":"quantitative","scale":{"domain":[8,108.8],"nice":false,"zero":false},"axis":null}}},
{"data":{"values":[{"i":104.2,"i2":134.0,"v":53.6}]},"mark":{"type":"rule","color":"#ff3030","strokeWidth":3,"opacity":0.9},
 "encoding":{"x2":{"field":"i2"},"y":{"field":"v","type":"quantitative","scale":{"domain":[8,108.8],"nice":false,"zero":false},"axis":null}}},
{"data":{"values":[{"t":"KD在50以下，空方掌控","i":119.3,"v":74}]},"mark":{"type":"text","align":"center","baseline":"middle","fontSize":15,"color":"#ff4a4a","opacity":0.9,"font":"Noto Sans CJK SC"},
 "encoding":{"text":{"field":"t"},"y":{"field":"v","type":"quantitative","scale":{"domain":[8,108.8],"nice":false,"zero":false},"axis":null}}},
{"data":{"values":[{"t":"993 ↓","i":0.3,"v":99.2}]},"mark":{"type":"text","align":"left","baseline":"middle","fontSize":7,"color":"#e040e0"},
 "encoding":{"text":{"field":"t"},"y":{"field":"v","type":"quantitative","scale":{"domain":[8,108.8],"nice":false,"zero":false},"axis":null}}},
{"data":{"values":[{"t":"改参数","i":120.3,"v":100.4},{"t":"加指标","i":124.65,"v":100.4},{"t":"换指标","i":128.95,"v":100.4},{"t":"⊠","i":133.0,"v":100.4}]},"mark":{"type":"text","align":"left","baseline":"middle","fontSize":8,"color":"#777777","font":"Noto Sans CJK SC"},
 "encoding":{"text":{"field":"t"},"y":{"field":"v","type":"quantitative","scale":{"domain":[8,108.8],"nice":false,"zero":false},"axis":null}}}
]
}
]
}
